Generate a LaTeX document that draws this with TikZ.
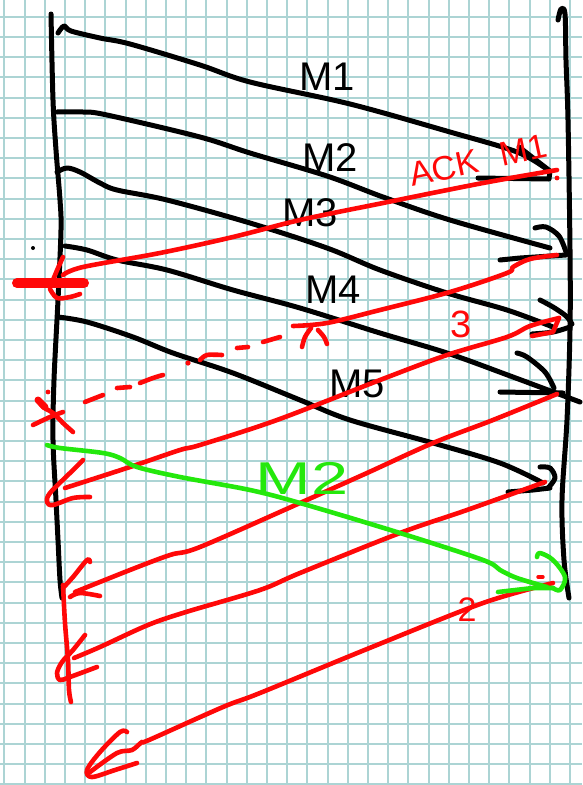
\documentclass[tikz,border=0pt]{standalone}
\usepackage{fontspec}
\setmainfont{Liberation Sans}
\definecolor{gridc}{RGB}{172,212,212}
\definecolor{inkred}{RGB}{255,8,8}
\definecolor{inkgreen}{RGB}{36,232,12}
\tikzset{
  ink/.style={line width=5pt, line cap=round, line join=round},
  blk/.style={ink, draw=black},
  rd/.style={ink, draw=inkred, line width=4.6pt},
  grn/.style={ink, draw=inkgreen, line width=4.6pt},
  sm/.style={smooth, tension=0.55},
  lbl/.style={inner sep=0pt, font=\fontsize{40}{40}\selectfont},
}
\begin{document}
\begin{tikzpicture}[x=1pt,y=-1pt]
\fill[white] (0,0) rectangle (582,785);
\useasboundingbox (0,0) rectangle (582,785);
\begin{scope}
\clip (0,0) rectangle (582,785);
\foreach \i in {0,...,28} \draw[gridc, line width=2pt] ({4.3+\i*20.2},0) -- ({4.3+\i*20.2},785);
\foreach \j in {-1,...,38} \draw[gridc, line width=2pt] (0,{16.7+\j*20.2}) -- (582,{16.7+\j*20.2});
\end{scope}

% lifelines
\draw[blk] plot[sm] coordinates {(51,14) (53,100) (56,150) (60,200) (61,230) (58,300) (54,380) (53,440) (56,500) (58,540) (60,580) (62,598)};
\draw[blk] plot[sm] coordinates {(558,20) (561,9) (565,14) (566,60) (568,120) (570,250) (570,330) (567,420) (562,500) (564,560) (569,598)};
\fill (33,248) circle (2pt);

% M1
\draw[blk] plot[sm] coordinates {(58,33) (64,26) (71,31) (100,38) (130,44) (200,65) (250,82) (350,104) (450,132) (517,152) (548,170)};
\draw[blk] (519,147) -- (550,171) -- (549,179) -- (478,178);
% M2
\draw[blk] plot[sm] coordinates {(57,112) (83,112) (107,115) (200,137) (250,153) (327,176) (383,197) (450,220) (550,248)};
\draw[blk] plot[sm] coordinates {(535,228) (546,227) (559,236) (566,252)};
\draw[blk] (500,260) -- (520,258) -- (566,255);
% M3
\draw[blk] plot[sm] coordinates {(57,172) (67,168) (80,172) (100,183) (117,190) (167,200) (250,223) (327,248) (380,270) (447,293) (507,310) (553,327)};
\draw[blk] plot[sm] coordinates {(540,300) (553,307) (566,316) (572,324)};
\draw[blk] plot[sm] coordinates {(532,334) (553,332) (570,327)};
% M4
\draw[blk] plot[sm] coordinates {(65,246) (87,250) (117,260) (167,270) (233,290) (300,308) (380,333) (447,353) (513,377) (580,402)};
\draw[blk] plot[sm] coordinates {(517,353) (527,357) (545,372) (554,388)};
\draw[blk] (500,392) -- (563,393);
% M5
\draw[blk] plot[sm] coordinates {(58,317) (87,322) (133,337) (173,353) (233,373) (300,400) (350,420) (433,443) (500,463) (543,483)};
\draw[blk] plot[sm] coordinates {(540,467) (550,468) (555,478) (548,488)};
\draw[blk] (508,492) -- (533,490) -- (550,488);

\node[lbl] (m1) at (327,77) {M1};
\node[lbl] (m2) at (330,158) {M2};
\node[lbl] (m3) at (310,213) {M3};
\node[lbl] (m4) at (333,290) {M4};
\node[lbl] (m5) at (357,384) {M5};

% ACK 1
\draw[rd] plot[sm] coordinates {(557,170) (483,183) (383,203) (300,220) (233,237) (160,253) (83,267) (63,275)};
\draw[rd] plot[sm] coordinates {(63,257) (58,268) (53,280)};
\draw[rd] plot[sm] coordinates {(50,289) (57,298) (70,297) (80,294)};
\draw[rd, line width=10pt] (17,283) -- (84,283);
\fill[inkred] (557,178) circle (2.4pt);
\node[lbl, text=inkred, rotate=12, font=\fontsize{34}{34}\selectfont] (ack) at (444,168) {ACK};
\node[lbl, text=inkred, rotate=12, font=\fontsize{34}{34}\selectfont] (ackm) at (523,150) {M1};

% ACK 2 (lost)
\draw[rd] plot[sm] coordinates {(557,255) (530,259) (513,267) (507,273) (450,292) (380,310) (327,323) (293,326)};
\draw[rd] plot[sm] coordinates {(311,328) (305,337) (302,347)};
\draw[rd] plot[sm] coordinates {(318,330) (324,337) (327,344)};
\draw[rd] (263,342) -- (280,337);
\draw[rd] (237,348) -- (248,347);
\draw[rd] plot[sm] coordinates {(200,360) (207,355) (222,355)};
\fill[inkred] (188,363) circle (2.6pt);
\draw[rd] plot[sm] coordinates {(140,383) (153,378) (163,375)};
\draw[rd] (117,388) -- (130,387);
\draw[rd] (85,402) -- (103,395);
\fill[inkred] (48,392) circle (2.4pt);
\draw[rd, line width=7pt] (38,400) -- (45,407);
\draw[rd] plot[sm] coordinates {(38,400) (43,407) (53,413) (63,423) (73,432)};
\draw[rd] plot[sm] coordinates {(33,425) (50,417) (63,412)};

% ACK 3
\draw[rd] plot[sm] coordinates {(559,318) (530,326) (507,337) (447,355) (380,380) (277,420) (200,445) (180,450) (130,467) (65,488)};
\draw[rd] (532,336) -- (553,332) -- (559,318);
\draw[rd] plot[sm] coordinates {(83,460) (70,473) (50,493) (47,502) (53,505) (73,498) (90,497)};
\node[lbl, text=inkred, font=\fontsize{38}{38}\selectfont] (l3) at (461,324) {3};

% ACK 4
\draw[rd] plot[sm] coordinates {(557,394) (493,420) (433,443) (367,473) (300,503) (200,547) (170,555) (130,570) (75,592)};
\draw[rd] plot[sm] coordinates {(90,562) (87,560) (73,577) (63,588)};
\draw[rd] plot[sm] coordinates {(70,597) (80,593) (100,596)};
\draw[rd] plot[sm] coordinates {(63,585) (65,623) (68,660) (69,690) (71,702)};

% ACK 5
\draw[rd] plot[sm] coordinates {(545,482) (467,510) (400,533) (300,573) (260,590) (186,612) (148,625) (100,647) (74,658)};
\draw[rd] plot[sm] coordinates {(85,635) (73,650) (62,662) (57,673) (60,680) (70,677) (97,667)};

% final ACK
\draw[rd] plot[sm] coordinates {(553,583) (483,603) (372,647) (260,693) (223,707) (149,740) (142,742) (132,750) (117,753) (90,772)};
\draw[rd] plot[sm] coordinates {(127,732) (120,732) (100,752) (87,770) (92,777) (115,770) (137,763)};
\node[lbl, text=inkred, font=\fontsize{34}{34}\selectfont] (l2) at (467,610) {2};

% retransmission M2
\draw[grn] plot[sm] coordinates {(47,445) (60,448) (103,453) (120,458) (137,467) (180,477) (250,490) (300,503) (400,533) (483,560) (500,570) (517,578) (547,587)};
\draw[grn] plot[sm] coordinates {(537,557) (540,553) (553,560) (565,577) (560,590) (553,588)};
\draw[grn] (498,592) -- (533,588) -- (553,588);
\draw[rd, line width=3.4pt] (538,577) -- (543,577);
\node[lbl, text=inkgreen, font=\fontsize{46}{46}\selectfont] (gm2) at (302,478) {\scalebox{1.45}[1]{M2}};
\end{tikzpicture}
\end{document}
